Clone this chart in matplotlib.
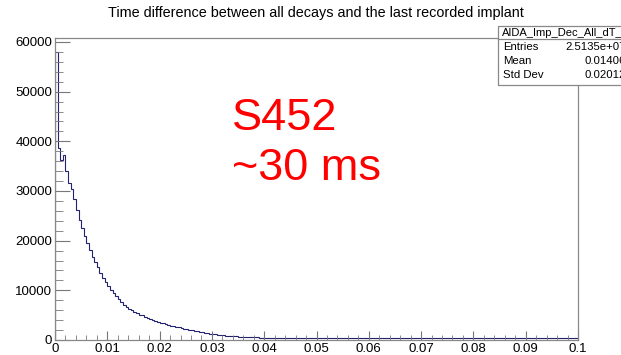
import numpy as np
import matplotlib.pyplot as plt
from matplotlib.ticker import MultipleLocator

# histogram contents, bins of 0.0005 from 0 to 0.1
counts_0 = [57900, 38600, 36200, 37300, 34100, 31600, 30400, 28400, 26100, 24200,
            22500, 20900, 19500, 18200, 16800, 15700, 14600, 13500, 12400, 11600]
counts_1 = [10900, 10100, 9500, 8800, 8200, 7700, 7100, 6700, 6300, 6000,
            5700, 5400, 5100, 4950, 4700, 4500, 4250, 4050, 3850, 3700]
counts_2 = [3500, 3350, 3200, 3050, 2900, 2800, 2650, 2550, 2450, 2300,
            2200, 2100, 1950, 1850, 1750, 1650, 1550, 1450, 1380, 1300]
counts_3 = [1220, 1150, 1080, 1010, 960, 900, 860, 810, 770, 730,
            700, 660, 630, 610, 580, 560, 540, 520, 500, 490]
counts_4 = [470, 460, 450, 430, 440, 420, 410, 420, 400, 390,
            400, 380, 390, 370, 380, 375, 360, 370, 365, 355]
counts_tail = [380, 350, 400, 360, 370, 340, 390, 360, 350, 380,
               340, 370, 360, 390, 350, 330, 380, 360, 370, 350,
               400, 360, 340, 380, 350, 370, 390, 340, 360, 380,
               350, 370, 330, 360, 390, 350, 380, 400, 360, 340,
               370, 350, 380, 360, 340, 390, 370, 350, 360, 380,
               360, 340, 380, 370, 350, 390, 360, 340, 370, 380,
               350, 360, 400, 370, 340, 360, 390, 350, 370, 360,
               340, 380, 360, 350, 390, 370, 340, 360, 380, 350,
               370, 360, 340, 390, 350, 380, 360, 370, 340, 380,
               360, 350, 390, 370, 340, 360, 380, 350, 370, 360]
counts = np.array(counts_0 + counts_1 + counts_2 + counts_3 + counts_4 + counts_tail)
edges = np.linspace(0, 0.1, len(counts) + 1)

hist_name = 'AIDA_Imp_Dec_All_dT_short'
stat_names = ['Entries', 'Mean', 'Std Dev']
stat_values = ['2.5135e+07', '0.01406', '0.02012']

plt.rcParams['font.family'] = ['Liberation Sans', 'DejaVu Sans']

fig = plt.figure(figsize=(6.21, 3.55), dpi=100)
ax = fig.add_axes([55/621, 15/355, 523/621, 302/355])

ax.stairs(counts, edges, color='#22226e', lw=0.8)

ax.set_xlim(0, 0.1)
ax.set_ylim(0, 60800)
ax.xaxis.set_major_locator(MultipleLocator(0.01))
ax.xaxis.set_minor_locator(MultipleLocator(0.002))
ax.yaxis.set_major_locator(MultipleLocator(10000))
ax.yaxis.set_minor_locator(MultipleLocator(2000))
ax.xaxis.set_major_formatter(plt.FuncFormatter(lambda v, p: '0' if v == 0 else ('%g' % round(v, 3))))
ax.tick_params(axis='both', which='both', direction='in', color='#777777', labelsize=9.5)
ax.tick_params(axis='y', which='major', length=11, pad=2)
ax.tick_params(axis='y', which='minor', length=5.8)
ax.tick_params(axis='x', which='major', length=6.5, pad=2)
ax.tick_params(axis='x', which='minor', length=3.5)
for s in ax.spines.values():
    s.set_color('#888888')
    s.set_linewidth(0.9)

fig.text(316/621, 1 - 13/355, 'Time difference between all decays and the last recorded implant',
         ha='center', va='center', fontsize=10.4)

ax.text(232/621, 1 - 119/355, 'S452', transform=fig.transFigure, color='red',
        fontsize=32.5, ha='left', va='center')
ax.text(232/621, 1 - 168/355, '~30 ms', transform=fig.transFigure, color='red',
        fontsize=32.5, ha='left', va='center')

# stats box, cut at the right edge like in the original
box = plt.Rectangle((498/621, 1 - 85/355), 130/621, 59/355, transform=fig.transFigure,
                    facecolor='white', edgecolor='#888888', lw=0.9, zorder=5)
fig.add_artist(box)
fig.add_artist(plt.Line2D([498/621, 1.02], [1 - 39/355, 1 - 39/355], transform=fig.transFigure,
                          color='#888888', lw=0.9, zorder=6))
fig.text(502/621, 1 - 33/355, hist_name, fontsize=8, ha='left', va='center', zorder=7)
for i, (n, v) in enumerate(zip(stat_names, stat_values)):
    y = 1 - (47 + 14 * i) / 355
    fig.text(503/621, y, n, fontsize=8.2, ha='left', va='center', zorder=7)
    fig.text(626/621, y, v, fontsize=8.2, ha='right', va='center', zorder=7)

plt.savefig('out.png', dpi=100)
